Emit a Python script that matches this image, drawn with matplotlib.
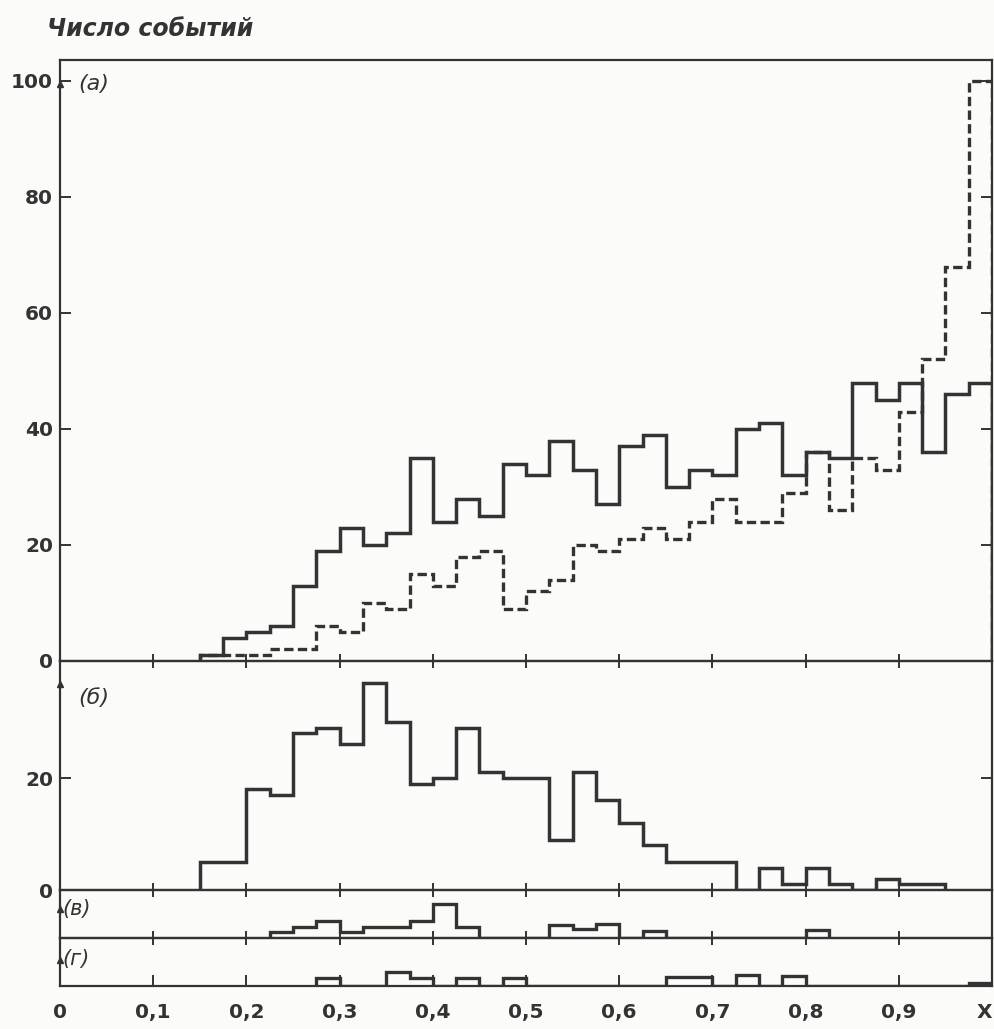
import numpy as np
import matplotlib.pyplot as plt

# ширина бина по X
step = 0.025

# (а) сплошная и штриховая гистограммы, бины с 0.15 до 1.0
a_start = 0.15
a_solid = [1, 4, 5, 6, 13, 19, 23, 20, 22, 35, 24, 28, 25, 34, 32, 38, 33, 27, 37, 39,
           30, 33, 32, 40, 41, 32, 36, 35, 48, 45, 48, 36, 46, 48]
a_dashed = [1, 1, 1, 2, 2, 6, 5, 10, 9, 15, 13, 18, 19, 9, 12, 14, 20, 19, 21, 23,
            21, 24, 28, 24, 24, 29, 36, 26, 35, 33, 43, 52, 68, 100]

# (б) бины с 0.15 до 0.95
b_start = 0.15
b_vals = [5, 5, 18, 17, 28, 29, 26, 37, 30, 19, 20, 29, 21, 20, 20, 9, 21, 16, 12, 8,
          5, 5, 5, 0, 4, 1, 4, 1, 0, 2, 1, 1]

# (в) бины с 0.225
v_start = 0.225
v_vals = [1, 2, 3, 1, 2, 2, 3, 6, 2, 0, 0, 0, 2.3, 1.6, 2.5, 0, 1.2, 0, 0, 0, 0, 0, 0, 1.5]

# (г) бины с 0.275
g_start = 0.275
g_vals = [1.5, 0, 0, 2.5, 1.4, 0, 1.4, 0, 1.5, 0, 0, 0, 0, 0, 0, 1.6, 1.6, 0, 1.9, 0, 1.8,
          0, 0, 0, 0, 0, 0, 0, 0.6]

x_ticks = [0, 0.1, 0.2, 0.3, 0.4, 0.5, 0.6, 0.7, 0.8, 0.9]
x_labels = ['0', '0,1', '0,2', '0,3', '0,4', '0,5', '0,6', '0,7', '0,8', '0,9']
a_yticks = [0, 20, 40, 60, 80, 100]
b_yticks = [0, 20]

ink = '#333333'
W, H = 994, 1029

fig = plt.figure(figsize=(W / 100, H / 100), dpi=100)
fig.patch.set_facecolor('#fbfbfa')


def pos(top, bottom):
    # положение панели в пикселях -> доли фигуры
    return [60 / W, 1 - bottom / H, 932 / W, (bottom - top) / H]


ax_a = fig.add_axes(pos(60, 661))
ax_b = fig.add_axes(pos(661, 890))
ax_v = fig.add_axes(pos(890, 938))
ax_g = fig.add_axes(pos(938, 986))
axes = [ax_a, ax_b, ax_v, ax_g]

ylims = [103.6, 40.9, 8.57, 8.57]
for ax, top in zip(axes, ylims):
    ax.set_facecolor('none')
    ax.set_xlim(0, 1.0)
    ax.set_ylim(0, top)
    for s in ax.spines.values():
        s.set_linewidth(1.6)
        s.set_color(ink)
    ax.set_xticks(x_ticks[1:])
    ax.tick_params(axis='x', direction='inout', length=10, width=1.4, color=ink,
                   labelbottom=False)
    ax.tick_params(axis='y', direction='in', length=8, width=1.4, color=ink,
                   left=True, right=True, labelsize=14.5, pad=5)


def edges(start, vals):
    return start + step * np.arange(len(vals) + 1)


# гистограммы
ax_a.stairs(a_solid, edges(a_start, a_solid), color=ink, lw=2.5)
ax_a.stairs(a_dashed, edges(a_start, a_dashed), color=ink, lw=2.4,
            linestyle=(0, (2.8, 1.3)))
ax_b.stairs(b_vals, edges(b_start, b_vals), color=ink, lw=2.5)
ax_v.stairs(v_vals, edges(v_start, v_vals), color=ink, lw=2.4)
ax_g.stairs(g_vals, edges(g_start, g_vals), color=ink, lw=2.4)

# подписи осей
ax_a.set_yticks(a_yticks)
ax_a.set_yticklabels([str(v) for v in a_yticks], fontweight='bold', color=ink)
ax_b.set_yticks(b_yticks)
ax_b.set_yticklabels([str(v) for v in b_yticks], fontweight='bold', color=ink)
ax_v.set_yticks([])
ax_g.set_yticks([])

ax_g.set_xticks(x_ticks)
ax_g.set_xticklabels(x_labels, fontsize=14.5, fontweight='bold', color=ink)
ax_g.tick_params(axis='x', direction='in', length=8, labelbottom=True, pad=12)
# "X" в конце оси, прижат к правому краю
ax_g.annotate('X', xy=(1.0, 0), xycoords=('data', 'axes fraction'), xytext=(0, -12),
              textcoords='offset points', ha='right', va='top', fontsize=14.5,
              fontweight='bold', color=ink)

# стрелки на левой оси
for ax, yf in [(ax_a, 0.96), (ax_b, 0.9), (ax_v, 0.6), (ax_g, 0.55)]:
    ax.plot(0, yf, marker='^', ms=5, color=ink, transform=ax.transAxes, clip_on=False)

# метки панелей
ax_a.text(0.02, 0.96, '(а)', transform=ax_a.transAxes, fontsize=16, style='italic',
          color=ink, va='center')
ax_b.text(0.02, 0.84, '(б)', transform=ax_b.transAxes, fontsize=16, style='italic',
          color=ink, va='center')
ax_v.text(0.003, 0.6, '(в)', transform=ax_v.transAxes, fontsize=15, style='italic',
          color=ink, va='center')
ax_g.text(0.003, 0.57, '(г)', transform=ax_g.transAxes, fontsize=15, style='italic',
          color=ink, va='center')

fig.text(47 / W, 1 - 29 / H, 'Число событий', fontsize=17, style='italic',
         fontweight='bold', color=ink, va='center')

fig.savefig('out.png', dpi=100, facecolor=fig.get_facecolor())
